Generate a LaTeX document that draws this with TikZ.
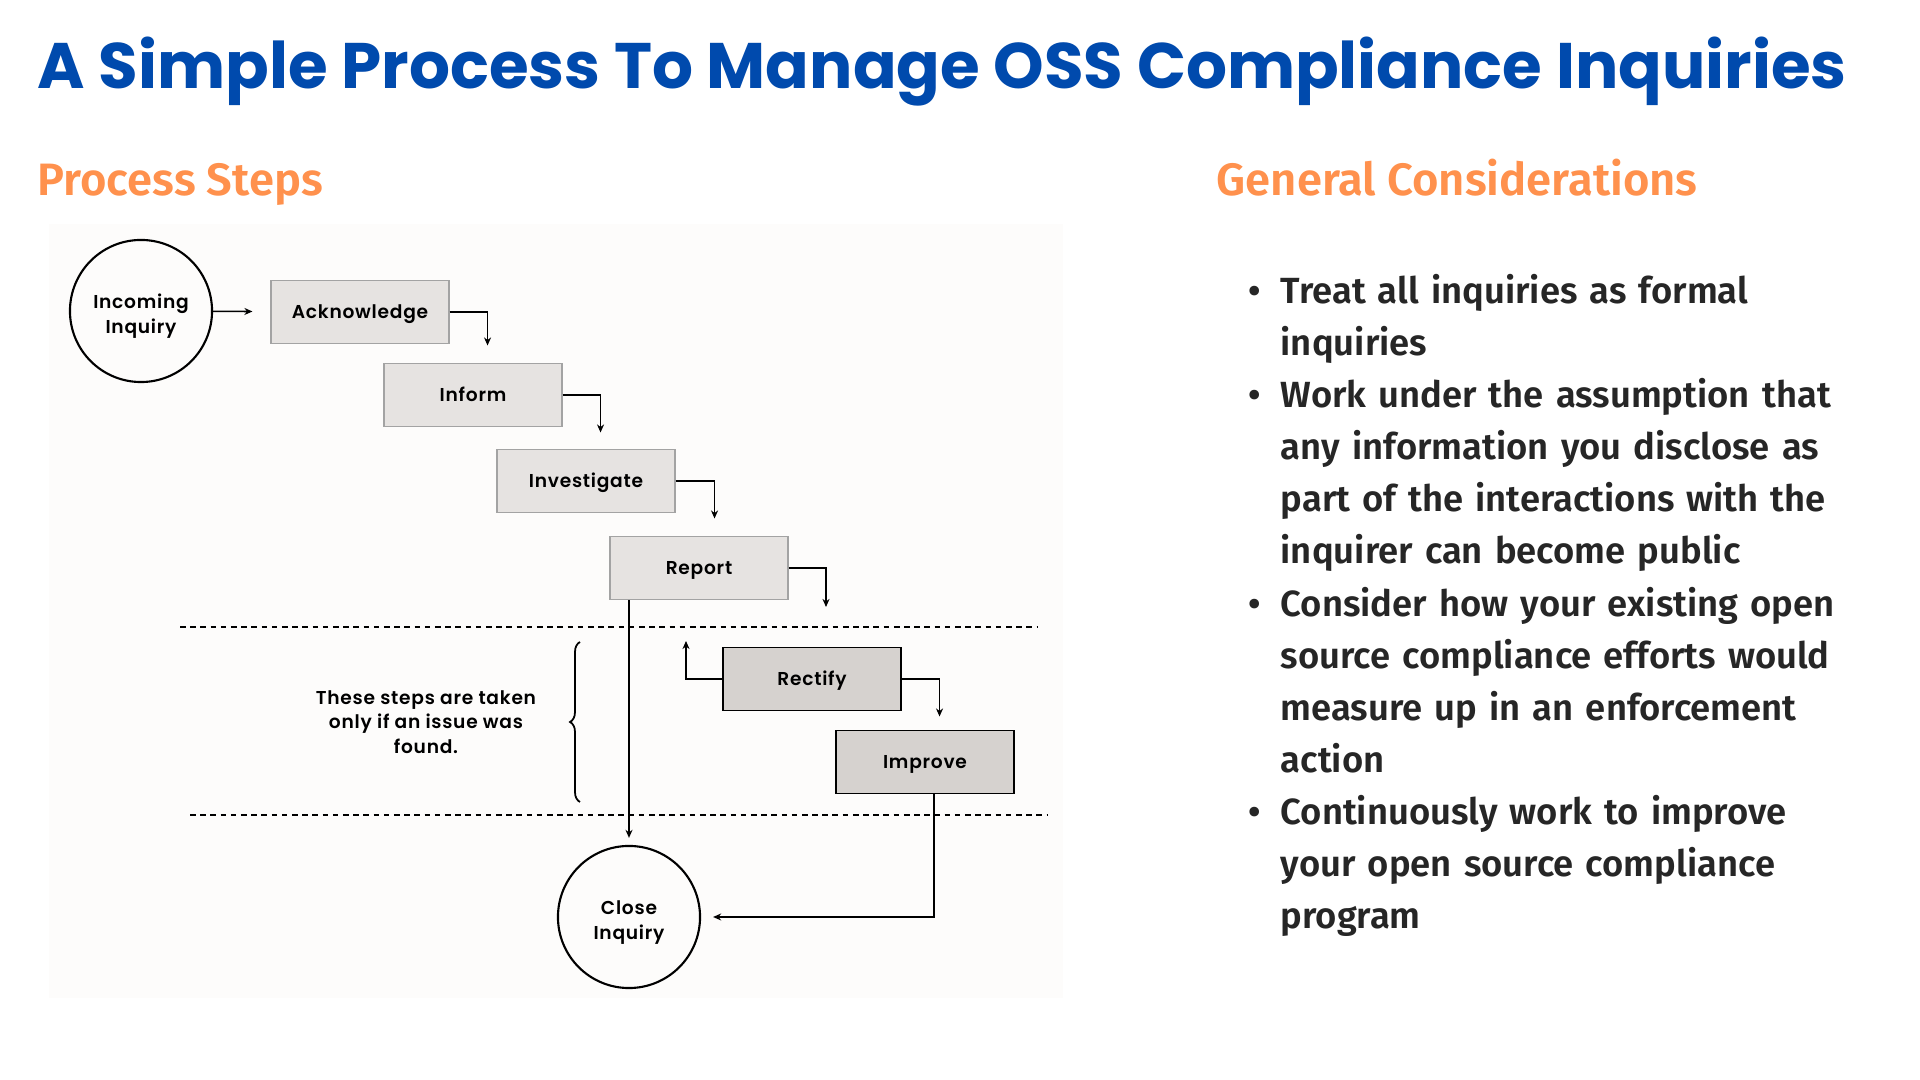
\documentclass[tikz,border=0pt]{standalone}
\usepackage{fontspec}
\usetikzlibrary{arrows.meta,decorations.pathreplacing}
\setmainfont{Fira Sans}
\newfontfamily\titlefont{Poppins Bold}
\newfontfamily\headfont{Fira Sans SemiBold}
\newfontfamily\listfont{Fira Sans SemiBold}
\newfontfamily\boxfont{Poppins SemiBold}[LetterSpace=4]
\definecolor{titleblue}{HTML}{004AAD}
\definecolor{headorange}{HTML}{FF914D}
\definecolor{inkgray}{HTML}{262626}
\definecolor{panelfill}{HTML}{FDFCFB}
\definecolor{boxfill}{HTML}{E6E3E1}
\definecolor{boxedge}{HTML}{A3A3A3}
\definecolor{fixfill}{HTML}{D6D2CF}

\begin{document}
\begin{tikzpicture}[x=0.01cm, y=-0.01cm,
	stepbox/.style={draw=boxedge, fill=boxfill, line width=0.55pt, minimum width=1.77cm, minimum height=0.63cm, inner sep=0pt, text height=3.8pt, text depth=0pt, font=\boxfont\fontsize{5.3}{7}\selectfont},
	fixbox/.style={stepbox, draw=black, fill=fixfill},
	endpoint/.style={draw, circle, line width=0.6pt, minimum size=1.42cm, inner sep=0pt},
	endtext/.style={align=center, inner sep=0pt, yshift=-1.5pt, font=\boxfont\fontsize{5.3}{7}\selectfont},
	arr/.style={-{Stealth[length=2.3pt,width=2pt]}, line width=0.45pt},
	split/.style={dash pattern=on 1.6pt off 1.3pt, line width=0.5pt},
	heading/.style={anchor=base west, inner sep=0pt, text=headorange, font=\headfont\fontsize{12.9}{15}\selectfont}
]
	\useasboundingbox (0,0) rectangle (1920,1080);
	\fill[white] (0,0) rectangle (1920,1080);

	\node[anchor=base west, inner sep=0pt, text=titleblue, font=\titlefont\fontsize{18.3}{20}\selectfont] (title) at (37,89) {A Simple Process To Manage OSS Compliance Inquiries};
	\node[heading] (steps) at (37,196) {Process Steps};
	\node[heading] (general) at (1216,196) {General Considerations};

	\fill[panelfill] (49,224) rectangle (1063,998);

	\node[endpoint, label={[endtext]center:Incoming\\Inquiry}] (inc) at (141,311) {};
	\node[stepbox] (ack) at (360,312) {Acknowledge};
	\node[stepbox] (inf) at (473,395) {Inform};
	\node[stepbox] (inv) at (586,481) {Investigate};
	\node[stepbox] (rep) at (699,568) {Report};
	\node[fixbox] (rec) at (812,679) {Rectify};
	\node[fixbox] (imp) at (925,762) {Improve};
	\node[endpoint, label={[endtext]center:Close\\Inquiry}] (clo) at (629,917) {};

	\coordinate (repEnd) at (826,607);
	\coordinate (recEnd) at (686,641);

	\draw[split] (180,627) -- (1038,627);
	\draw[split] (190,815) -- (1048,815);

	\draw[arr, shorten >=0.18cm] (inc) -- (ack);
	\draw[arr, shorten >=0.17cm] (ack.east) -| ([xshift=0.38cm]ack.east |- inf.north);
	\draw[arr, shorten >=0.16cm] (inf.east) -| ([xshift=0.38cm]inf.east |- inv.north);
	\draw[arr, shorten >=0.17cm] (inv.east) -| ([xshift=0.39cm]inv.east |- rep.north);
	\draw[arr] (rep.east) -| (repEnd);
	\draw[arr, shorten >=0.07cm] (rep.south -| clo.north) -- (clo.north);
	\draw[arr] (rec.west) -| (recEnd);
	\draw[arr, shorten >=0.13cm] (rec.east) -| ([xshift=0.38cm]rec.east |- imp.north);
	\draw[arr, shorten >=0.12cm] ([xshift=0.09cm]imp.south) |- (clo.east);

	\draw[line width=0.5pt, decorate, decoration={brace, amplitude=0.1cm}] (580,802) -- (580,642);
	\node[align=center, inner sep=0pt, font=\boxfont\fontsize{5.3}{7}\selectfont] (why) at (426,722) {These steps are taken\\only if an issue was\\found.};

	\node[anchor=north west, inner sep=0pt, text width=6.6cm, text=inkgray, font=\listfont\fontsize{10.35}{14.8}\selectfont] (cons) at (1245,251) {%
		\begin{list}{\textbullet}{\setlength\leftmargin{0.35cm}\setlength\labelwidth{0.15cm}\setlength\labelsep{0.2cm}%
			\setlength\itemsep{0pt}\setlength\parsep{0pt}\setlength\topsep{0pt}\setlength\partopsep{0pt}}
		\item Treat all inquiries as formal\newline inquiries
		\item Work under the assumption that\newline any information you disclose as\newline part of the interactions with the\newline inquirer can become public
		\item Consider how your existing open\newline source compliance efforts would\newline measure up in an enforcement\newline action
		\item Continuously work to improve\newline your open source compliance\newline program
		\end{list}};
\end{tikzpicture}
\end{document}
